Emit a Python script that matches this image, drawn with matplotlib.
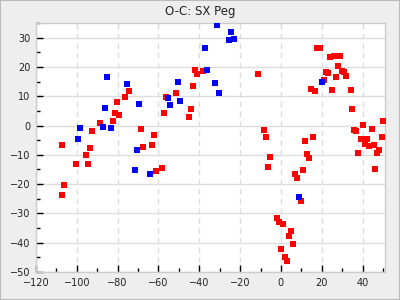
import matplotlib
matplotlib.use("Agg")
import matplotlib.pyplot as plt
from matplotlib.ticker import MultipleLocator
from matplotlib.patches import Rectangle

red_x = [-107.5, -93.7, -92.7, -88.8, -82.2, -81.4, -79.5, -80.4, -76.5, -74.5,
         -68.6, -67.7, -63.2, -62.2, -57.3, -56.4, -51.4, -45.1, -44.1, -43.1,
         -42.1, -41.1, -38.2, -95.7, -100.6, -94.7, -106.5, -107.5, -61.3, -58.4,
         -11.2, -8.2, -7.2, -5.3, -6.2, -1.8, -0.8, 1.1, 5.1, 4.1, 6.0, 0.1, 2.1, 3.1,
         7.0, 8.0, 11.0, 10.0, 13.0, 13.9, 11.9, 15.9,
         17.8, 19.3, 24.2, 26.2, 29.1, 28.2, 22.3, 23.2, 30.1, 31.1, 27.2, 32.1,
         21.3, 14.9, 16.9, 25.2, 34.1, 35.0, 40.0, 36.0, 37.0, 44.4, 50.0, 49.3,
         39.0, 42.4, 41.4, 43.4, 45.4, 48.3, 38.0, 47.3, 46.3]
red_y = [-6.6, -7.5, -1.8, 0.9, 1.6, 4.3, 3.7, 8.1, 9.8, 11.9,
         -1.1, -7.3, -6.6, -3.2, 4.3, 9.8, 11.2, 3.0, 5.7, 13.6,
         19.1, 17.7, 18.7, -10.0, -13.1, -13.1, -20.3, -23.7, -15.5, -14.5,
         17.7, -1.5, -3.9, -10.7, -14.1, -31.6, -33.0, -33.7, -36.1, -37.8, -40.5, -42.2, -45.0, -46.3,
         -16.5, -17.9, -15.2, -25.8, -9.7, -11.1, -5.2, -3.9,
         26.6, 26.3, 23.5, 23.9, 23.9, 20.4, 18.4, 18.0, 18.7, 18.4, 16.7, 17.0,
         15.6, 12.6, 11.9, 12.2, 12.2, 5.7, 0.2, -1.5, -1.8, -1.1, 1.6, -3.9,
         -4.6, -4.6, -6.3, -7.0, -6.6, -8.3, -9.4, -9.4, -14.8]

blue_x = [-99.6, -98.6, -87.3, -86.3, -85.3, -83.4, -75.5, -69.6, -70.6, -55.4,
          -54.4, -50.5, -49.5, -37.2, -36.2, -31.3, -24.4, -25.4, -22.9, -32.3,
          -30.3, 20.3, 9.0, -71.6, -64.2]
blue_y = [-4.6, -0.8, -0.5, 6.0, 16.7, -0.8, 14.3, 7.4, -8.5, 9.5,
          7.1, 15.0, 8.5, 26.6, 19.1, 34.3, 32.1, 29.3, 29.7, 14.6,
          11.2, 15.0, -24.4, -15.2, -16.5]

title = "O-C: SX Peg"

fig = plt.figure(figsize=(4, 3), dpi=100, facecolor="#eeeeee")
ax = fig.add_axes([0.09, 0.0933, 0.8725, 0.83])
ax.set_facecolor("white")

ax.scatter(red_x, red_y, marker="s", s=13, color="#ff0000", linewidths=0, zorder=3)
ax.scatter(blue_x, blue_y, marker="s", s=13, color="#0000ff", linewidths=0, zorder=3)

ax.set_xlim(-120, 51)
ax.set_ylim(-50, 35)
ax.xaxis.set_major_locator(MultipleLocator(20))
ax.xaxis.set_minor_locator(MultipleLocator(10))
ax.yaxis.set_major_locator(MultipleLocator(10))
ax.yaxis.set_minor_locator(MultipleLocator(5))

ax.grid(axis="y", which="major", color="#dddddd", linestyle="-", linewidth=1.0, zorder=0)
ax.grid(axis="x", which="major", color="#dddddd", linestyle=(0, (4, 3)), linewidth=1.0, zorder=0)
ax.set_axisbelow(True)

ax.tick_params(which="major", direction="in", length=5, width=1, color="black",
               labelsize=7, labelcolor="#222222", pad=4)
ax.tick_params(which="minor", direction="in", length=3, width=1, color="black")
ax.tick_params(top=False, right=False, which="both")

for sp in ax.spines.values():
    sp.set_color("#cccccc")
    sp.set_linewidth(1)

fig.text(0.5, 0.963, title, ha="center", va="center", fontsize=8.5, color="#222222")

fig.patches.append(Rectangle((0, 0), 1, 1, transform=fig.transFigure, fill=False,
                             edgecolor="#bbbbbb", linewidth=1.5))

fig.savefig("out.png", dpi=100, facecolor=fig.get_facecolor())
